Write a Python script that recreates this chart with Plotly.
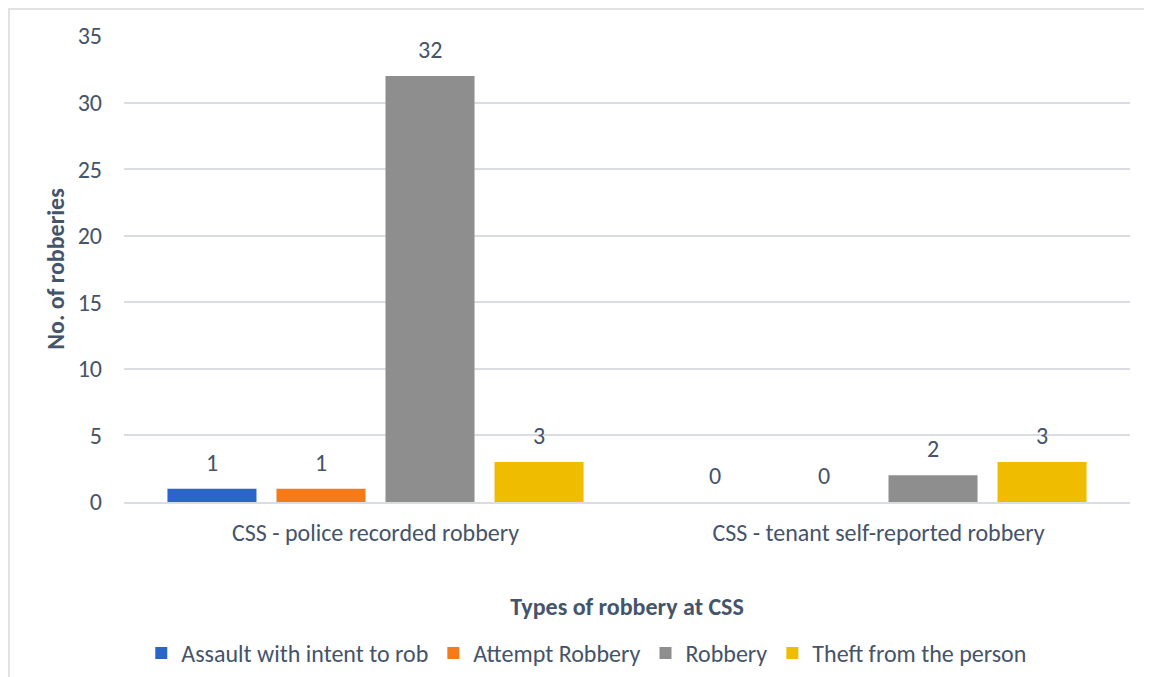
import plotly.graph_objects as go

categories = ["CSS - police recorded robbery", "CSS - tenant self-reported robbery"]
series_names = ["Assault with intent to rob", "Attempt Robbery", "Robbery", "Theft from the person"]
assault = [1, 0]
attempt = [1, 0]
robbery = [32, 2]
theft = [3, 3]
colors = ["#2C65C8", "#F47A1A", "#8E8E8E", "#EFBC00"]

FONT = "Carlito, Calibri, Lato, sans-serif"
TXT = "#44546A"
FS = 24
bargap = 0.133

fig = go.Figure()
all_vals = [assault, attempt, robbery, theft]
for name, vals, c in zip(series_names, all_vals, colors):
    fig.add_trace(go.Bar(x=categories, y=vals, name=name, marker=dict(color=c, line=dict(width=0))))

# data labels above bars
slot = (1 - bargap) / len(all_vals)
annotations = []
for i, vals in enumerate(all_vals):
    for j, v in enumerate(vals):
        annotations.append(dict(x=j + (i - 1.5) * slot, y=v, xref="x", yref="y", text=str(v),
                                showarrow=False, yanchor="bottom", yshift=10,
                                font=dict(family=FONT, size=FS, color=TXT)))

# page body adds ~8px offset, margins account for it
fig.update_layout(
    width=1152, height=677,
    margin=dict(l=116, r=30, t=28, b=183, autoexpand=False),
    paper_bgcolor="white", plot_bgcolor="white",
    barmode="group", bargap=bargap, bargroupgap=0.1835,
    font=dict(family=FONT, size=FS, color=TXT),
    annotations=annotations,
    xaxis=dict(title=dict(text="<b>Types of robbery at CSS</b>", standoff=53, font=dict(size=FS)),
               showgrid=False, showline=True, linecolor="#D9DDE3", linewidth=1.5, automargin=False,
               tickfont=dict(size=FS), ticklabelstandoff=8),
    yaxis=dict(title=dict(text="<b>No. of robberies</b>", standoff=6, font=dict(size=FS)),
               range=[0, 35], dtick=5, gridcolor="#D9DDE3", gridwidth=1.5, automargin=False,
               zeroline=False, tickfont=dict(size=FS), ticklabelstandoff=21),
    legend=dict(orientation="h", x=0.46, xanchor="center", y=-0.325, yanchor="middle",
                font=dict(size=FS), traceorder="normal"),
    shapes=[dict(type="rect", xref="paper", yref="paper", x0=-115 / 1006, x1=1.2, y0=-1, y1=1 + 27 / 466,
                 line=dict(color="#D9D9D9", width=1.5), fillcolor="rgba(0,0,0,0)", layer="below")],
)

fig.write_html("out.html")
